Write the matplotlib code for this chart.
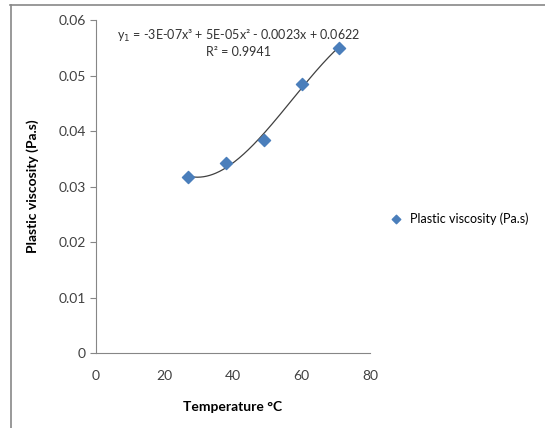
import numpy as np
import matplotlib
matplotlib.use("Agg")
import matplotlib.pyplot as plt
from matplotlib.lines import Line2D

plt.rcParams['font.family'] = ['Lato', 'DejaVu Sans']

# data
temperature = [27, 38, 49, 60, 71]
viscosity = [0.0317, 0.0342, 0.0384, 0.0485, 0.0550]
x_ticks = [0, 20, 40, 60, 80]
y_ticks = [0, 0.01, 0.02, 0.03, 0.04, 0.05, 0.06]
y_labels = ['0', '0.01', '0.02', '0.03', '0.04', '0.05', '0.06']

fig = plt.figure(figsize=(5.45, 4.28), dpi=100)
ax = fig.add_axes([0.176, 0.175, 0.503, 0.778])

# cubic trendline
coef = np.polyfit(temperature, viscosity, 3)
xs = np.linspace(min(temperature), max(temperature), 200)
ax.plot(xs, np.polyval(coef, xs), color='#404040', lw=0.9)

ax.scatter(temperature, viscosity, marker='D', s=38, color='#4a7ebb',
           zorder=3, label='Plastic viscosity (Pa.s)')

ax.set_xlim(0, 80)
ax.set_ylim(0, 0.06)
ax.set_xticks(x_ticks)
ax.set_yticks(y_ticks)
ax.set_yticklabels(y_labels)
ax.tick_params(labelsize=10, colors='#868686', labelcolor='#404040', length=4)
ax.tick_params(axis='x', length=0, pad=12)
for s in ['top', 'right']:
    ax.spines[s].set_visible(False)
for s in ['left', 'bottom']:
    ax.spines[s].set_color('#868686')

ax.set_xlabel('Temperature °C', fontsize=10, fontweight='bold', labelpad=14)
ax.set_ylabel('Plastic viscosity (Pa.s)', fontsize=10, fontweight='bold', labelpad=14)

ax.text(41.5, 0.0571, 'y$_1$ = -3E-07x³ + 5E-05x² - 0.0023x + 0.0622',
        ha='center', va='center', fontsize=9, color='#333333')
ax.text(41.5, 0.0543, 'R² = 0.9941', ha='center', va='center',
        fontsize=9, color='#333333')

fig.legend(loc='center left', bbox_to_anchor=(0.69, 0.49), frameon=False,
           fontsize=9, handletextpad=0.1, markerscale=0.7, borderaxespad=0.2)

# outer frame (top and left only visible)
fig.add_artist(Line2D([10 / 545, 1], [1 - 4.5 / 428] * 2, color='#888888', lw=1.2,
                      transform=fig.transFigure))
fig.add_artist(Line2D([11 / 545] * 2, [0, 1 - 4.5 / 428], color='#888888', lw=1.2,
                      transform=fig.transFigure))

fig.savefig('out.png', dpi=100)
